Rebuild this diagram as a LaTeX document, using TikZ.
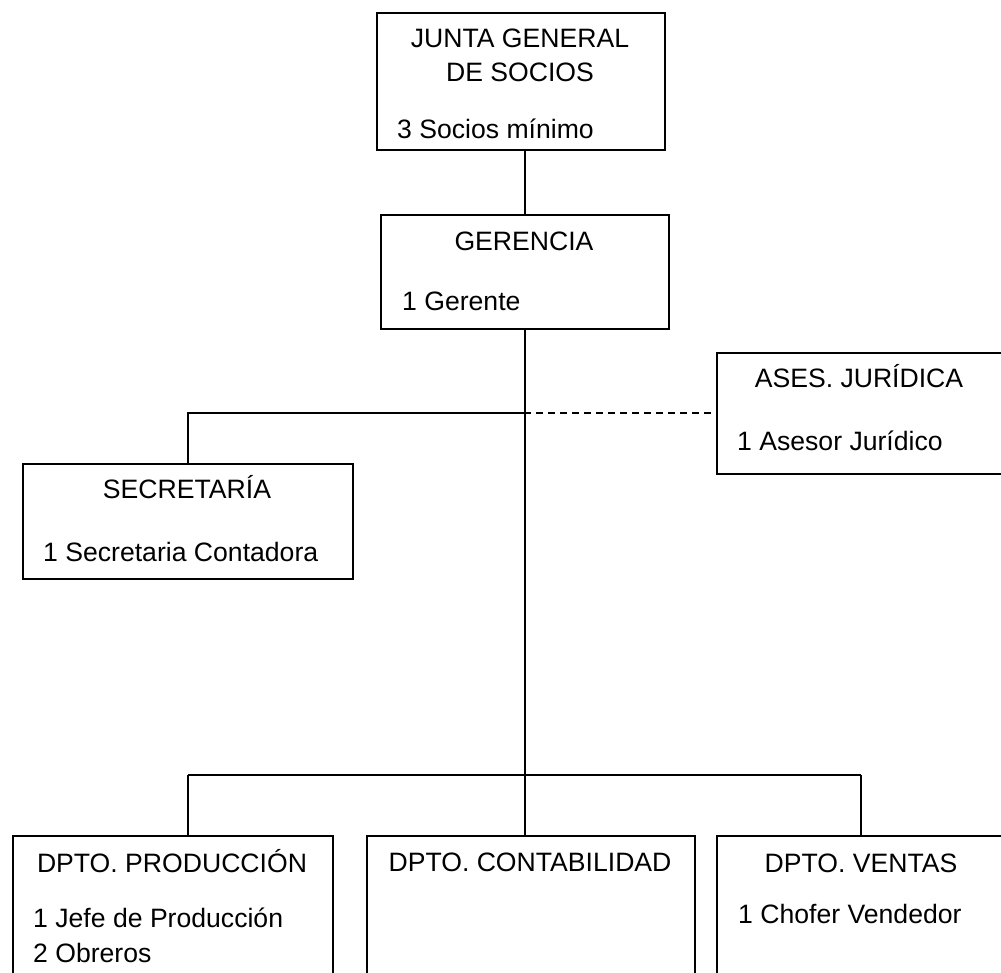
\documentclass[tikz,border=0pt]{standalone}
\usepackage{fontspec}
\setmainfont{Liberation Sans}
\begin{document}
\begin{tikzpicture}[x=1pt,y=-1pt,
  box/.style={draw,line width=1.6pt,rectangle,anchor=north west,inner sep=0pt},
  lbl/.style={anchor=base,inner sep=0pt,font=\fontsize{26.6}{32}\selectfont},
  lbll/.style={anchor=base west,inner sep=0pt,font=\fontsize{26.6}{32}\selectfont},
  conn/.style={line width=1.4pt},
  dconn/.style={line width=1.4pt,dash pattern=on 7pt off 5pt}]
\useasboundingbox (0,0) rectangle (1001,973);
\clip (0,0) rectangle (1001,973);
% boxes
\node[box,minimum width=288pt,minimum height=137pt] (junta) at (376,12) {};
\node[box,minimum width=288pt,minimum height=114pt] (ger) at (380,214) {};
\node[box,minimum width=300pt,minimum height=121pt] (ases) at (716,352) {};
\node[box,minimum width=330pt,minimum height=115pt] (sec) at (22,463) {};
\node[box,minimum width=320pt,minimum height=150pt] (prod) at (12,835) {};
\node[box,minimum width=328pt,minimum height=150pt] (cont) at (366,835) {};
\node[box,minimum width=300pt,minimum height=150pt] (vent) at (716,835) {};
% texts
\node[lbl] (t1) at (520,48) {JUNTA GENERAL};
\node[lbl] (t2) at (520,82) {DE SOCIOS};
\node[lbll] (t3) at (397,139) {3 Socios mínimo};
\node[lbl] (t4) at (524,251) {GERENCIA};
\node[lbll] (t5) at (402,311) {1 Gerente};
\node[lbl] (t6) at (859,388) {ASES. JURÍDICA};
\node[lbll] (t7) at (737,450) {1 Asesor Jurídico};
\node[lbl] (t8) at (187,498) {SECRETARÍA};
\node[lbll] (t9) at (43,561) {1 Secretaria Contadora};
\node[lbl] (t10) at (172,872) {DPTO. PRODUCCIÓN};
\node[lbll] (t11) at (33,927) {1 Jefe de Producción};
\node[lbll] (t12) at (33,962) {2 Obreros};
\node[lbl] (t13) at (530,871) {DPTO. CONTABILIDAD};
\node[lbl] (t14) at (861,872) {DPTO. VENTAS};
\node[lbll] (t15) at (738,923) {1 Chofer Vendedor};
% connectors
\coordinate (ja) at (524,413);
\coordinate (jb) at (524,775);
\coordinate (pp) at (188,775);
\coordinate (vp) at (861,775);
\draw[conn] (ger.north) -- (ger.north |- junta.south);
\draw[conn] (ger.south) -- (ger.south |- cont.north);
\draw[conn] (ja) -| (sec.north);
\draw[dconn] (ja) -- (ases.west |- ja);
\draw[conn] (pp) -- (vp);
\draw[conn] (pp) -- (pp |- prod.north);
\draw[conn] (vp) -- (vp |- vent.north);
\end{tikzpicture}
\end{document}
